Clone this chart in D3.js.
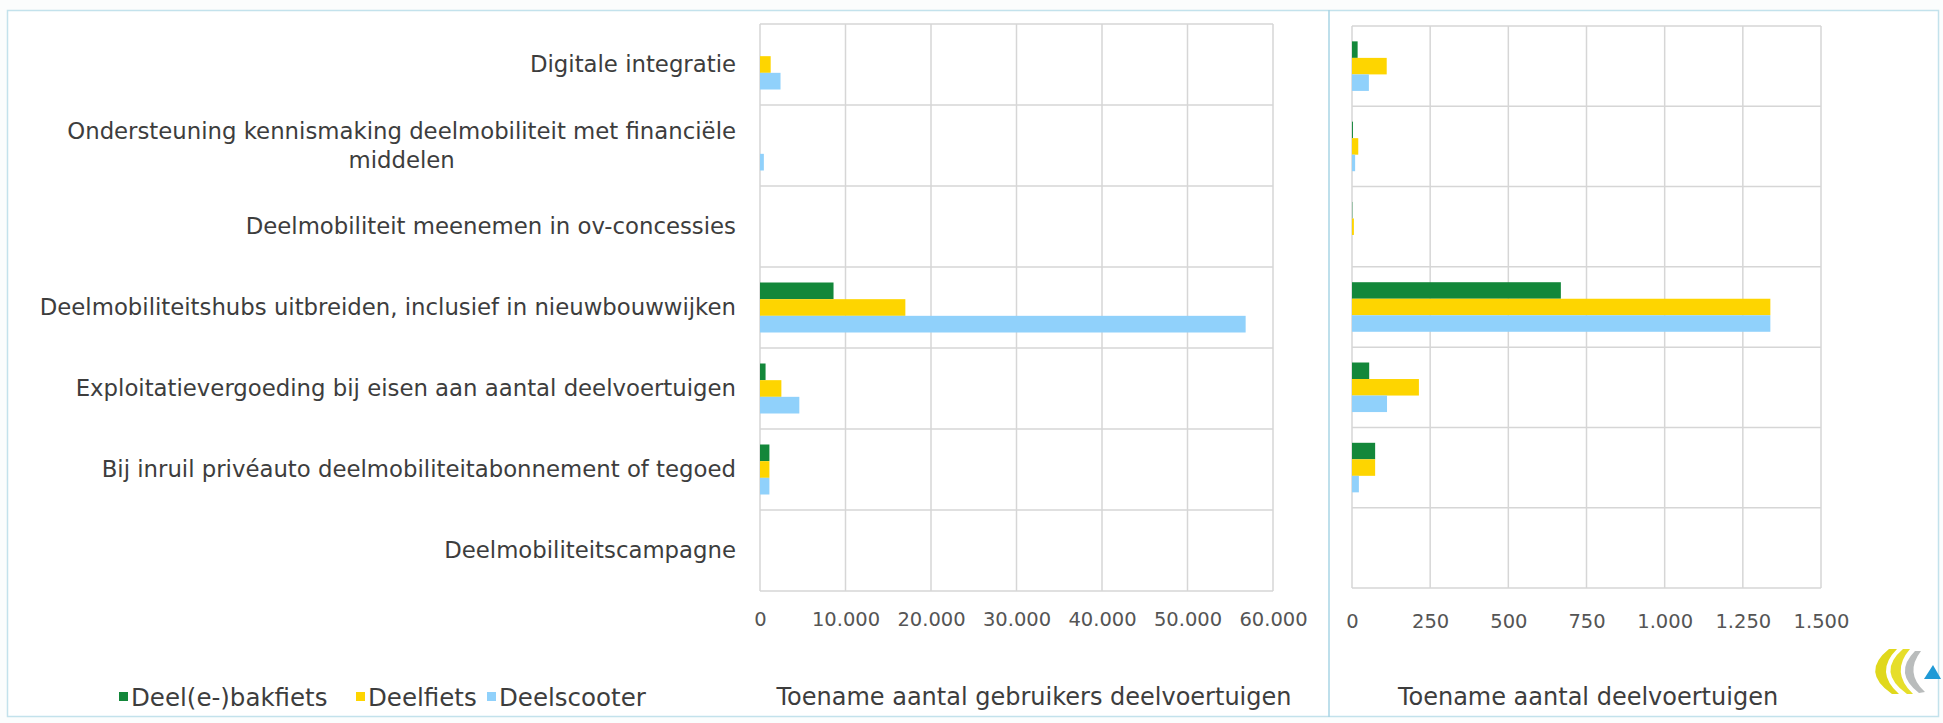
<!DOCTYPE html>
<html>
<head>
<meta charset="utf-8">
<script src="https://cdn.jsdelivr.net/npm/d3@7/dist/d3.min.js"></script>
<style>
  html, body { margin: 0; padding: 0; background: #ffffff; }
  svg { display: block; }
  text { font-family: "DejaVu Sans", Verdana, sans-serif; }
</style>
</head>
<body>
<svg id="chart" width="1943" height="723"></svg>
<script>
// ---- DATA ----
const categories = [
  "Digitale integratie",
  "Ondersteuning kennismaking deelmobiliteit met financiële middelen",
  "Deelmobiliteit meenemen in ov-concessies",
  "Deelmobiliteitshubs uitbreiden, inclusief in nieuwbouwwijken",
  "Exploitatievergoeding bij eisen aan aantal deelvoertuigen",
  "Bij inruil privéauto deelmobiliteitabonnement of tegoed",
  "Deelmobiliteitscampagne"
];
const categoryLines = [
  ["Digitale integratie"],
  ["Ondersteuning kennismaking deelmobiliteit met financiële", "middelen"],
  ["Deelmobiliteit meenemen in ov-concessies"],
  ["Deelmobiliteitshubs uitbreiden, inclusief in nieuwbouwwijken"],
  ["Exploitatievergoeding bij eisen aan aantal deelvoertuigen"],
  ["Bij inruil privéauto deelmobiliteitabonnement of tegoed"],
  ["Deelmobiliteitscampagne"]
];
const series = ["Deel(e-)bakfiets", "Deelfiets", "Deelscooter"];

// Toename aantal gebruikers deelvoertuigen
const usersBakfiets = [0, 0, 0, 8600, 650, 1100, 0];
const usersFiets    = [1250, 0, 0, 17000, 2500, 1100, 0];
const usersScooter  = [2400, 450, 0, 56800, 4600, 1100, 0];

// Toename aantal deelvoertuigen
const vehiclesBakfiets = [18, 3, 1, 668, 55, 74, 0];
const vehiclesFiets    = [111, 20, 6, 1338, 214, 74, 0];
const vehiclesScooter  = [54, 10, 0, 1338, 112, 22, 0];

const leftTicks  = [0, 10000, 20000, 30000, 40000, 50000, 60000];
const rightTicks = [0, 250, 500, 750, 1000, 1250, 1500];
const leftTitle  = "Toename aantal gebruikers deelvoertuigen";
const rightTitle = "Toename aantal deelvoertuigen";

// ---- STYLE ----
const colors = { "Deel(e-)bakfiets": "#13873a", "Deelfiets": "#fed500", "Deelscooter": "#90d1fb" };
const gridColor = "#d6d6d6";
const textColor = "#3d3d3d";

const nl = d3.formatLocale({ decimal: ",", thousands: ".", grouping: [3], currency: ["€", ""] });
const fmt = nl.format(",d");

const svg = d3.select("#chart");

// background and frame
svg.append("rect").attr("x", 0).attr("y", 0).attr("width", 1943).attr("height", 723).attr("fill", "#fbfdfd");
svg.append("rect").attr("x", 7.5).attr("y", 10.5).attr("width", 1931).attr("height", 706)
  .attr("fill", "#ffffff").attr("stroke", "#c3e2ec").attr("stroke-width", 1.5);
svg.append("line").attr("x1", 1329).attr("x2", 1329).attr("y1", 10).attr("y2", 717)
  .attr("stroke", "#a9d5e4").attr("stroke-width", 1.5);

function panel(opts) {
  const { x, y, valuesBySeries, ticks, tickPad, title, titleX } = opts;
  const g = svg.append("g");
  const inner = d3.scaleBand().domain(series).range([0, y.bandwidth()]).paddingInner(0).paddingOuter(0.93);

  // vertical gridlines
  g.selectAll("line.vg").data(ticks).join("line").attr("class", "vg")
    .attr("x1", d => x(d)).attr("x2", d => x(d))
    .attr("y1", y.range()[0]).attr("y2", y.range()[1])
    .attr("stroke", gridColor).attr("stroke-width", 1.5);
  // horizontal category boundary lines
  const bounds = categories.map(c => y(c)).concat([y.range()[1]]);
  g.selectAll("line.hg").data(bounds).join("line").attr("class", "hg")
    .attr("x1", x.range()[0]).attr("x2", x.range()[1])
    .attr("y1", d => d).attr("y2", d => d)
    .attr("stroke", gridColor).attr("stroke-width", 1.5);

  // bars
  series.forEach((s, si) => {
    g.selectAll(null).data(valuesBySeries[si]).join("rect")
      .attr("x", x(0))
      .attr("y", (d, i) => y(categories[i]) + inner(s))
      .attr("width", d => Math.max(0, x(d) - x(0)))
      .attr("height", inner.bandwidth())
      .attr("fill", colors[s]);
  });

  // axis
  const axis = d3.axisBottom(x).tickValues(ticks).tickFormat(fmt).tickSize(0).tickPadding(tickPad);
  const ag = g.append("g").attr("transform", `translate(0,${y.range()[1]})`).call(axis);
  ag.select(".domain").remove();
  ag.selectAll("text").attr("font-size", 19.5).attr("fill", "#555555")
    .style("font-family", "'DejaVu Sans', Verdana, sans-serif");

  // title
  g.append("text").attr("x", titleX).attr("y", 697).attr("dy", "0.35em")
    .attr("text-anchor", "middle").attr("font-size", 24).attr("fill", textColor).text(title);
}

// left panel
const xL = d3.scaleLinear().domain([0, 60000]).range([760, 1273]);
const yL = d3.scaleBand().domain(categories).range([24, 591]);
panel({ x: xL, y: yL, valuesBySeries: [usersBakfiets, usersFiets, usersScooter],
        ticks: leftTicks, tickPad: 21, title: leftTitle, titleX: 1034 });

// right panel
const xR = d3.scaleLinear().domain([0, 1500]).range([1352, 1821]);
const yR = d3.scaleBand().domain(categories).range([26, 588]);
panel({ x: xR, y: yR, valuesBySeries: [vehiclesBakfiets, vehiclesFiets, vehiclesScooter],
        ticks: rightTicks, tickPad: 26, title: rightTitle, titleX: 1588 });

// category labels
const labelRight = 736;
const lineH = 28.5;
categories.forEach((c, i) => {
  const lines = categoryLines[i];
  const cy = yL(c) + yL.bandwidth() / 2;
  const startY = cy - (lines.length - 1) * lineH / 2;
  const t0 = svg.append("text").attr("x", labelRight).attr("y", startY).attr("dy", "0.35em")
    .attr("text-anchor", "end").attr("font-size", 22.8).attr("fill", textColor).text(lines[0]);
  if (lines.length > 1) {
    const w = t0.node().getComputedTextLength();
    const center = labelRight - w / 2;
    for (let k = 1; k < lines.length; k++) {
      svg.append("text").attr("x", center).attr("y", startY + k * lineH).attr("dy", "0.35em")
        .attr("text-anchor", "middle").attr("font-size", 22.8).attr("fill", textColor).text(lines[k]);
    }
  }
});

// legend
const legendSquareX = [119, 356, 487];
const lg = svg.append("g");
series.forEach((s, i) => {
  lg.append("rect").attr("x", legendSquareX[i]).attr("y", 692).attr("width", 9).attr("height", 9).attr("fill", colors[s]);
  lg.append("text").attr("x", legendSquareX[i] + 12).attr("y", 697).attr("dy", "0.35em")
    .attr("font-size", 24.5).attr("fill", textColor).text(s);
});

// logo
const logo = svg.append("g");
logo.append("path").attr("d", "M1889,649 Q1860,672 1892,694 L1899,694 Q1874,672 1897,649 Z").attr("fill", "#e0d81c");
logo.append("path").attr("d", "M1903,649 Q1876,672 1907,694 L1913,694 Q1890,672 1910,649 Z").attr("fill", "#e6de2a");
logo.append("path").attr("d", "M1915,651 Q1893,673 1919,693 L1925,692 Q1904,673 1921,651 Z").attr("fill", "#b9bcbc");
logo.append("path").attr("d", "M1924,679 L1933,665 L1941,679 Z").attr("fill", "#1f9ad6");
</script>
</body>
</html>
